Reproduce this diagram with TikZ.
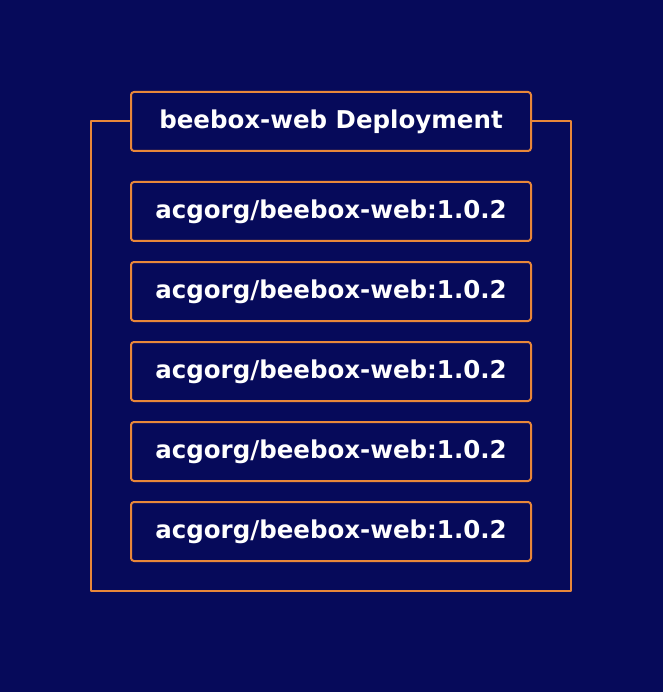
\documentclass[tikz,border=0pt]{standalone}
\usepackage{fontspec}
\setmainfont{DejaVu Sans}
\usetikzlibrary{positioning}
\definecolor{navy}{RGB}{6,10,90}
\definecolor{amber}{RGB}{232,135,58}
\begin{document}
\begin{tikzpicture}[x=1pt,y=-1pt, font=\fontsize{24.5}{28}\selectfont\bfseries, line join=round]
			\tikzset{box/.style={draw=amber, line width=2pt, fill=navy, rounded corners=3pt, minimum width=400pt, minimum height=59pt, inner sep=0pt, outer sep=0pt, text=white}}
			\fill[navy] (0,0) rectangle (663,692);
			\node[box] (deploy) at (331,121.5) {beebox-web Deployment};
			\node[box, below=31pt of deploy] (pod1) {acgorg/beebox-web:1.0.2};
			\foreach \i [remember=\i as \j (initially 1)] in {2,...,5}
				\node[box, below=21pt of pod\j] (pod\i) {acgorg/beebox-web:1.0.2};
			\coordinate (fbl) at (91,591);
			\coordinate (fbr) at (571,591);
			\draw[amber, line width=2pt] (deploy.west) -| (fbl) -- (fbr) |- (deploy.east);
		\end{tikzpicture}
\end{document}
